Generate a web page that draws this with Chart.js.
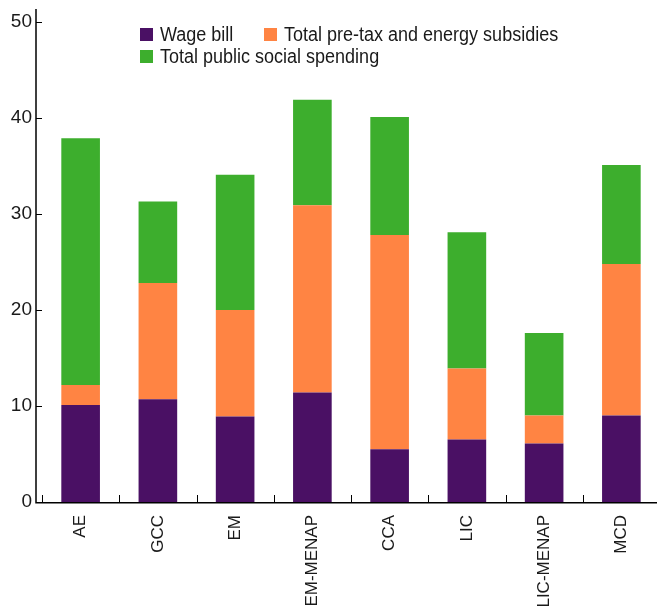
<!DOCTYPE html>
<html>
<head>
<meta charset="utf-8">
<script src="https://cdn.jsdelivr.net/npm/chart.js@4.4.0/dist/chart.umd.min.js"></script>
<style>
  html, body { margin: 0; padding: 0; background: #fff; overflow: hidden; }
  #wrap { position: relative; width: 662px; height: 606px; }
  #myChart { display: block; }
  .legend { position: absolute; left: 0; top: 0; font-family: "Liberation Sans", Arial, sans-serif; font-size: 20px; color: #1a1a1a; }
  .legend .item { position: absolute; white-space: nowrap; line-height: 22px; }
  .legend .sw { position: absolute; left: 0; top: 5px; width: 13px; height: 13px; }
  .legend .tx { position: absolute; left: 20px; top: 0; transform: scaleX(0.9); transform-origin: 0 0; }
</style>
</head>
<body>
<div id="wrap">
  <canvas id="myChart" width="662" height="606"></canvas>
  <div class="legend" id="legend"></div>
</div>
<script>
const FONT = '"Liberation Sans", Arial, sans-serif';

const categories = ["AE", "GCC", "EM", "EM-MENAP", "CCA", "LIC", "LIC-MENAP", "MCD"];
const wageBill = [10.1, 10.7, 8.9, 11.4, 5.5, 6.5, 6.1, 9.0];
const subsidies = [2.1, 12.1, 11.1, 19.5, 22.3, 7.4, 2.9, 15.8];
const socialSpending = [25.7, 8.5, 14.1, 11.0, 12.3, 14.2, 8.6, 10.3];
const yTicks = [0, 10, 20, 30, 40, 50];

const colors = ['#4a1064', '#ff8443', '#3dae2d'];
const names = ['Wage bill', 'Total pre-tax and energy subsidies', 'Total public social spending'];

// axis lines and inward ticks drawn by hand
const axisPlugin = {
  id: 'axes',
  afterDraw(chart) {
    const c = chart.ctx, x = chart.scales.x, y = chart.scales.y;
    const left = chart.chartArea.left - 6, bottom = y.getPixelForValue(0);
    c.save();
    c.strokeStyle = '#000';
    c.lineWidth = 1.5;
    c.beginPath();
    c.moveTo(left, y.getPixelForValue(50) - 13);
    c.lineTo(left, bottom + 0.75);
    c.lineTo(chart.width, bottom + 0.75);
    c.stroke();
    c.lineWidth = 1;
    c.beginPath();
    yTicks.forEach(v => {
      const py = Math.round(y.getPixelForValue(v)) + 0.5;
      c.moveTo(left, py);
      c.lineTo(left + 6, py);
    });
    for (let i = 0; i < categories.length; i++) {
      const px = Math.round(x.getPixelForValue(i) - (x.getPixelForValue(1) - x.getPixelForValue(0)) / 2) + 0.5;
      c.moveTo(px, bottom);
      c.lineTo(px, bottom - 7);
    }
    c.stroke();
    c.restore();
  }
};

const ctx = document.getElementById('myChart').getContext('2d');

const chart = new Chart(ctx, {
  type: 'bar',
  data: {
    labels: categories,
    datasets: [
      { label: names[0], data: wageBill, backgroundColor: colors[0] },
      { label: names[1], data: subsidies, backgroundColor: colors[1] },
      { label: names[2], data: socialSpending, backgroundColor: colors[2] }
    ]
  },
  options: {
    responsive: false,
    animation: false,
    layout: { padding: { top: 22, right: 2, left: 0, bottom: 0 } },
    datasets: { bar: { categoryPercentage: 1, barPercentage: 0.5 } },
    plugins: { legend: { display: false }, tooltip: { enabled: false } },
    scales: {
      x: {
        stacked: true,
        afterFit: s => { s.height = 104; },
        grid: { display: false },
        border: { display: false },
        ticks: { color: '#1a1a1a', font: { family: FONT, size: 17 }, minRotation: 90, maxRotation: 90, padding: 5 }
      },
      y: {
        stacked: true,
        min: 0, max: 50,
        afterBuildTicks: s => { s.ticks = yTicks.map(v => ({ value: v })); },
        afterFit: s => { s.width = 42; },
        grid: { display: false },
        border: { display: false },
        ticks: { color: '#1a1a1a', font: { family: FONT, size: 19 }, padding: 2 }
      }
    }
  },
  plugins: [axisPlugin]
});

// legend inside the plot
const legend = document.getElementById('legend');
const spots = [[140, 23], [264, 23], [140, 45]];
names.forEach((n, i) => {
  const d = document.createElement('div');
  d.className = 'item';
  d.style.left = spots[i][0] + 'px';
  d.style.top = spots[i][1] + 'px';
  d.innerHTML = '<span class="sw" style="background:' + colors[i] + '"></span><span class="tx">' + n + '</span>';
  legend.appendChild(d);
});
</script>
</body>
</html>
